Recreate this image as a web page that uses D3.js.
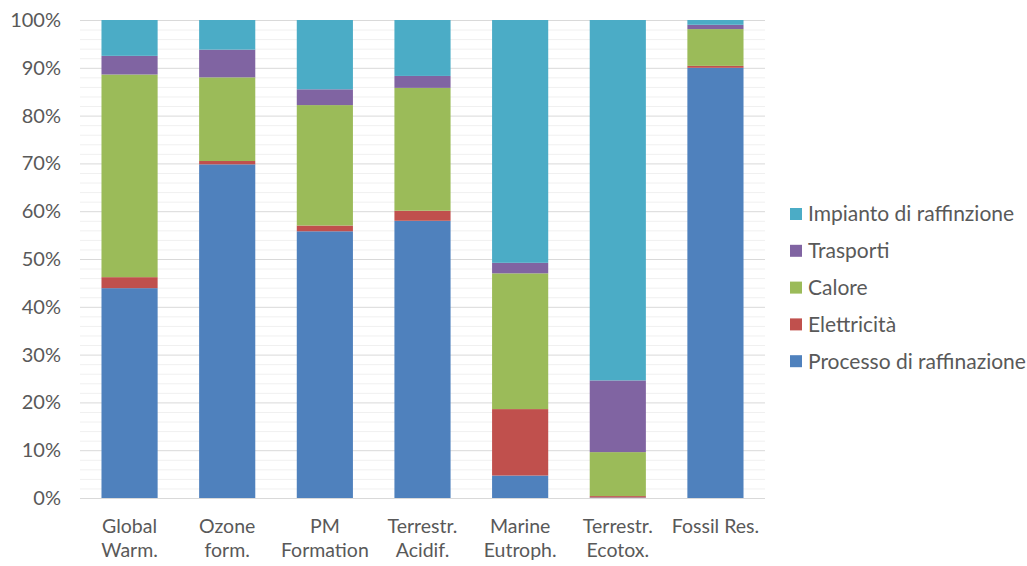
<!DOCTYPE html>
<html>
<head>
<meta charset="utf-8">
<script src="https://cdn.jsdelivr.net/npm/d3@7"></script>
<style>
  html, body { margin: 0; padding: 0; background: #fff; }
  svg { display: block; }
  text { font-family: Lato, "Open Sans", sans-serif; fill: #595959; }
</style>
</head>
<body>
<svg id="chart" width="1027" height="566"></svg>
<script>
// Impact categories (two-line labels)
const categories = [
  ["Global", "Warm."],
  ["Ozone", "form."],
  ["PM", "Formation"],
  ["Terrestr.", "Acidif."],
  ["Marine", "Eutroph."],
  ["Terrestr.", "Ecotox."],
  ["Fossil Res."]
];

// Contribution shares (%) per category, stacked bottom to top
const processo   = [43.9, 69.8, 55.8, 58.0, 4.7, 0.1, 90.0];
const elettricita = [2.3, 0.7, 1.2, 2.1, 13.9, 0.3, 0.4];
const calore     = [42.4, 17.5, 25.2, 25.7, 28.4, 9.2, 7.7];
const trasporti  = [3.9, 5.8, 3.3, 2.5, 2.2, 15.0, 0.9];
const impianto   = [7.5, 6.2, 14.5, 11.7, 50.8, 75.4, 1.0];

const seriesNames = ["Processo di raffinazione", "Elettricità", "Calore", "Trasporti", "Impianto di raffinzione"];
const seriesValues = [processo, elettricita, calore, trasporti, impianto];
const seriesColors = ["#4f81bd", "#c0504d", "#9bbb59", "#8064a2", "#4bacc6"];

const yTicks = [0, 10, 20, 30, 40, 50, 60, 70, 80, 90, 100];

const svg = d3.select("#chart");
const margin = { left: 80, right: 262, top: 20, bottom: 68 };
const W = 1027, H = 566;

const keys = categories.map((c, i) => "c" + i);
const x = d3.scaleBand().domain(keys).range([margin.left, W - margin.right]).paddingInner(0.425).paddingOuter(0.22);
const y = d3.scaleLinear().domain([0, 100]).range([H - margin.bottom, margin.top]);

// minor grid every 2%
const minor = d3.range(2, 100, 2).filter(v => v % 10 !== 0);
svg.append("g").selectAll("line").data(minor).join("line")
  .attr("x1", margin.left).attr("x2", W - margin.right)
  .attr("y1", d => y(d) + 0.5).attr("y2", d => y(d) + 0.5)
  .attr("stroke", "#f0f0f0").attr("stroke-width", 1);

// major grid every 10%
svg.append("g").selectAll("line").data(yTicks).join("line")
  .attr("x1", margin.left).attr("x2", W - margin.right)
  .attr("y1", d => y(d) + 0.5).attr("y2", d => y(d) + 0.5)
  .attr("stroke", "#d9d9d9").attr("stroke-width", 1);

// stacked bars
const rows = keys.map((k, i) => {
  const r = { key: k };
  seriesNames.forEach((s, j) => r[s] = seriesValues[j][i]);
  return r;
});
const stacked = d3.stack().keys(seriesNames)(rows);

svg.append("g").selectAll("g").data(stacked).join("g")
  .attr("fill", (d, i) => seriesColors[i])
  .selectAll("rect").data(d => d).join("rect")
  .attr("x", d => x(d.data.key))
  .attr("width", x.bandwidth())
  .attr("y", d => y(d[1]))
  .attr("height", d => y(d[0]) - y(d[1]));

// y axis labels
const yAxis = d3.axisLeft(y).tickValues(yTicks).tickFormat(d => d + "%").tickSize(0).tickPadding(0);
const ya = svg.append("g").attr("transform", `translate(${margin.left - 19},0)`).call(yAxis);
ya.select(".domain").remove();
ya.selectAll("text").attr("font-size", 20).attr("fill", "#595959")
  .style("font-family", "Lato, 'Open Sans', sans-serif");

// x axis labels
const xa = svg.append("g").attr("transform", `translate(0,${H - margin.bottom})`)
  .call(d3.axisBottom(x).tickSize(0).tickFormat(""));
xa.select(".domain").remove();
xa.selectAll(".tick").each(function(k, i) {
  const t = d3.select(this).append("text")
    .attr("text-anchor", "middle")
    .attr("font-size", 19.5)
    .attr("fill", "#595959")
    .style("font-family", "Lato, 'Open Sans', sans-serif");
  categories[i].forEach((line, li) => {
    t.append("tspan").attr("x", 0).attr("y", 35 + li * 24).text(line);
  });
});

// legend, top entry is the last series
const legend = svg.append("g").attr("transform", "translate(790,214)");
const order = seriesNames.map((s, i) => i).reverse();
order.forEach((si, row) => {
  const g = legend.append("g").attr("transform", `translate(0,${row * 36.8})`);
  g.append("rect").attr("x", 0).attr("y", -6).attr("width", 12).attr("height", 12).attr("fill", seriesColors[si]);
  g.append("text").attr("x", 18).attr("y", 0).attr("dy", "0.35em").attr("font-size", 21).text(seriesNames[si]);
});
</script>
</body>
</html>
